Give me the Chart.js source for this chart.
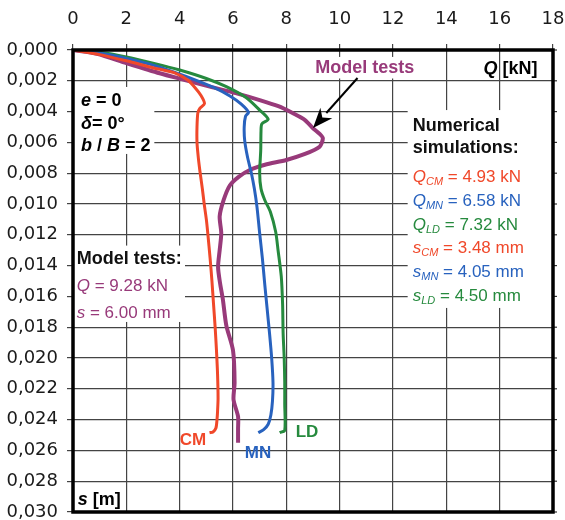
<!DOCTYPE html>
<html>
<head>
<meta charset="utf-8">
<script src="https://cdn.jsdelivr.net/npm/chart.js@4"></script>
<style>
html,body{margin:0;padding:0;background:#fff;}
canvas{display:block;}
</style>
</head>
<body>
<canvas id="c" width="565" height="520"></canvas>
<script>
// ---- Tick values / labels ----
const xTickValues = [0, 2, 4, 6, 8, 10, 12, 14, 16, 18];
const xTickLabels = ['0', '2', '4', '6', '8', '10', '12', '14', '16', '18'];
const yTickValues = [0, 0.002, 0.004, 0.006, 0.008, 0.010, 0.012, 0.014, 0.016, 0.018, 0.020, 0.022, 0.024, 0.026, 0.028, 0.030];
const yTickLabels = ['0,000', '0,002', '0,004', '0,006', '0,008', '0,010', '0,012', '0,014', '0,016', '0,018', '0,020', '0,022', '0,024', '0,026', '0,028', '0,030'];

// ---- Series: Q [kN] and s [m] ----
const cmQ = [0, 1, 2, 3, 3.83, 4.3, 4.57, 4.8, 4.93, 4.75, 4.68, 4.65, 4.65, 4.7, 4.77, 4.85, 4.92, 5.0, 5.06, 5.14, 5.21, 5.27, 5.33, 5.38, 5.42, 5.44, 5.42, 5.40, 5.36, 5.25, 5.12];
const cmS = [0, 0.0003, 0.0007, 0.00115, 0.0015, 0.00195, 0.00243, 0.00295, 0.00348, 0.0038, 0.0041, 0.005, 0.006, 0.007, 0.008, 0.009, 0.010, 0.011, 0.012, 0.0135, 0.015, 0.0165, 0.018, 0.0195, 0.021, 0.0226, 0.0235, 0.024, 0.02455, 0.0248, 0.02485];

const mnQ = [0, 1, 2, 3, 3.77, 4.6, 5.3, 5.9, 6.3, 6.58, 6.47, 6.42, 6.44, 6.55, 6.69, 6.8, 6.9, 7.0, 7.1, 7.19, 7.28, 7.37, 7.45, 7.5, 7.48, 7.42, 7.32, 7.15, 6.95];
const mnS = [0, 0.0002, 0.00055, 0.00098, 0.00142, 0.00195, 0.00245, 0.003, 0.0035, 0.00405, 0.0043, 0.005, 0.0059, 0.007, 0.008, 0.009, 0.0102, 0.0119, 0.0135, 0.0152, 0.0168, 0.0184, 0.020, 0.0216, 0.0228, 0.0237, 0.0243, 0.02465, 0.02485];

const ldQ = [0, 1, 2, 3, 4, 5, 5.75, 6.5, 7.0, 7.32, 7.08, 7.05, 7.04, 7.0, 7.05, 7.19, 7.4, 7.6, 7.69, 7.81, 7.86, 7.88, 7.92, 7.94, 7.94, 7.94, 7.75];
const ldS = [0, 0.00015, 0.00045, 0.00085, 0.0013, 0.00185, 0.00238, 0.0031, 0.0039, 0.0045, 0.0048, 0.0053, 0.0065, 0.008, 0.009, 0.00974, 0.0105, 0.0118, 0.013, 0.0147, 0.0165, 0.0184, 0.020, 0.0216, 0.023, 0.0247, 0.02485];

const mtQ = [0, 0.9, 2, 3.25, 4.2, 5.13, 6.1, 7.0, 7.7, 8.25, 8.7, 9.0, 9.25, 9.37, 9.25, 8.7, 8.0, 7.2, 6.63, 6.2, 5.88, 5.65, 5.5, 5.56, 5.5, 5.44, 5.52, 5.62, 5.75, 6.0, 6.06, 6.02, 6.19, 6.19, 6.19];
const mtS = [0, 0.00025, 0.00085, 0.00151, 0.00195, 0.00238, 0.0028, 0.00325, 0.00365, 0.00411, 0.00455, 0.00508, 0.00545, 0.00573, 0.00628, 0.00675, 0.00714, 0.00745, 0.00779, 0.00825, 0.0088, 0.00974, 0.0108, 0.0119, 0.013, 0.0141, 0.0152, 0.0162, 0.0179, 0.0195, 0.0216, 0.0227, 0.0238, 0.0246, 0.0255];

const RED = 'rgb(240,72,42)';
const BLUE = 'rgb(40,98,190)';
const GREEN = 'rgb(38,138,62)';
const PURPLE = 'rgb(152,58,122)';
const FONT = "'Liberation Sans', Arial, sans-serif";

function pts(q, s) { return q.map((v, i) => ({ x: v, y: s[i] })); }

function drawRich(ctx, x, y, segs, align) {
  let total = 0;
  segs.forEach(sg => { ctx.font = sg[1]; total += ctx.measureText(sg[0]).width; });
  let cx = align === 'right' ? x - total : (align === 'center' ? x - total / 2 : x);
  ctx.textAlign = 'left';
  ctx.textBaseline = 'alphabetic';
  segs.forEach(sg => {
    ctx.font = sg[1];
    ctx.fillStyle = sg[2] || '#000';
    ctx.fillText(sg[0], cx, y + (sg[3] || 0));
    cx += ctx.measureText(sg[0]).width;
  });
}

const annot = {
  id: 'annot',
  beforeDatasetsDraw(chart) {
    const ctx = chart.ctx, xs = chart.scales.x, ys = chart.scales.y;
    const X = q => xs.getPixelForValue(q), Y = mm => ys.getPixelForValue(mm / 1000);
    ctx.save();
    ctx.fillStyle = '#fff';
    const box = (q1, s1, q2, s2) => ctx.fillRect(X(q1), Y(s1), X(q2) - X(q1), Y(s2) - Y(s1));
    box(0, 2.4, 3.05, 6.75);
    box(0, 12.7, 4.2, 17.66);
    box(12.55, 3.9, 18, 16.75);
    box(0, 28.4, 1.9, 30);
    box(9.0, 0.45, 12.9, 1.85);
    ctx.restore();
  },
  afterDatasetsDraw(chart) {
    const ctx = chart.ctx, a = chart.chartArea, xs = chart.scales.x, ys = chart.scales.y;
    const X = q => xs.getPixelForValue(q), Y = mm => ys.getPixelForValue(mm / 1000);
    ctx.save();
    // right-side tick marks
    ctx.strokeStyle = '#333'; ctx.lineWidth = 1.2;
    yTickValues.forEach(v => { const y = ys.getPixelForValue(v); ctx.beginPath(); ctx.moveTo(a.right, y); ctx.lineTo(a.right + 4, y); ctx.stroke(); });
    // frame
    ctx.strokeStyle = '#000'; ctx.lineWidth = 3.5;
    ctx.strokeRect(a.left, a.top, a.right - a.left, a.bottom - a.top);

    const B18 = 'bold 18px ' + FONT, BI18 = 'italic bold 18px ' + FONT;
    const R17 = '17px ' + FONT, I17 = 'italic 17px ' + FONT, I11 = 'italic 11px ' + FONT;
    // parameters block
    drawRich(ctx, X(0.3), Y(3.65), [['e', BI18], [' = 0', B18]]);
    drawRich(ctx, X(0.3), Y(5.1), [['δ', BI18], ['= 0°', B18]]);
    drawRich(ctx, X(0.3), Y(6.55), [['b', BI18], [' / ', B18], ['B', BI18], [' = 2', B18]]);
    // model tests block
    drawRich(ctx, X(0.14), Y(13.9), [['Model tests:', B18, '#111']]);
    drawRich(ctx, X(0.14), Y(15.65), [['Q', I17, PURPLE], [' = 9.28 kN', R17, PURPLE]]);
    drawRich(ctx, X(0.14), Y(17.4), [['s', I17, PURPLE], [' = 6.00 mm', R17, PURPLE]]);
    // numerical simulations
    drawRich(ctx, X(12.74), Y(5.29), [['Numerical', B18, '#111']]);
    drawRich(ctx, X(12.74), Y(6.69), [['simulations:', B18, '#111']]);
    const rows = [
      ['Q', 'CM', ' = 4.93 kN', RED, 8.6],
      ['Q', 'MN', ' = 6.58 kN', BLUE, 10.16],
      ['Q', 'LD', ' = 7.32 kN', GREEN, 11.69],
      ['s', 'CM', ' = 3.48 mm', RED, 13.21],
      ['s', 'MN', ' = 4.05 mm', BLUE, 14.74],
      ['s', 'LD', ' = 4.50 mm', GREEN, 16.33]
    ];
    rows.forEach(r => drawRich(ctx, X(12.74), Y(r[4]), [[r[0], I17, r[3]], [r[1], I11, r[3], 3], [r[2], R17, r[3]]]));
    // axis titles
    drawRich(ctx, X(17.42), Y(1.56), [['Q', BI18], [' [kN]', B18]], 'right');
    drawRich(ctx, X(0.18), Y(29.55), [['s', BI18], [' [m]', B18]]);
    // curve labels
    const B17 = 'bold 17px ' + FONT;
    drawRich(ctx, X(4.0), Y(25.65), [['CM', B17, RED]]);
    drawRich(ctx, X(6.44), Y(26.5), [['MN', B17, BLUE]]);
    drawRich(ctx, X(8.35), Y(25.1), [['LD', B17, GREEN]]);
    // "Model tests" pointer label
    drawRich(ctx, X(10.94), Y(1.51), [['Model tests', B18, PURPLE]], 'center');
    // arrow
    const x1 = X(10.67), y1 = Y(1.82), x2 = X(9.0), y2 = Y(5.06);
    const ang = Math.atan2(y2 - y1, x2 - x1);
    const L = 20, W = 8;
    const bx = x2 - L * Math.cos(ang), by = y2 - L * Math.sin(ang);
    ctx.strokeStyle = '#000'; ctx.lineWidth = 2;
    ctx.beginPath(); ctx.moveTo(x1, y1); ctx.lineTo(bx, by); ctx.stroke();
    const nx = -Math.sin(ang), ny = Math.cos(ang);
    const nX = x2 - 0.7 * L * Math.cos(ang), nY = y2 - 0.7 * L * Math.sin(ang);
    ctx.fillStyle = '#000';
    ctx.beginPath();
    ctx.moveTo(x2, y2);
    ctx.lineTo(x2 - L * Math.cos(ang) + W * nx, y2 - L * Math.sin(ang) + W * ny);
    ctx.lineTo(nX, nY);
    ctx.lineTo(x2 - L * Math.cos(ang) - W * nx, y2 - L * Math.sin(ang) - W * ny);
    ctx.closePath(); ctx.fill();
    ctx.restore();
  }
};

const TICKFONT = { family: "'DejaVu Sans', sans-serif", size: 18 };
new Chart(document.getElementById('c'), {
  type: 'scatter',
  data: {
    datasets: [
      { label: 'CM', data: pts(cmQ, cmS), borderColor: RED, borderWidth: 3 },
      { label: 'MN', data: pts(mnQ, mnS), borderColor: BLUE, borderWidth: 3 },
      { label: 'LD', data: pts(ldQ, ldS), borderColor: GREEN, borderWidth: 3 },
      { label: 'Model tests', data: pts(mtQ, mtS), borderColor: PURPLE, borderWidth: 4 }
    ].map(d => Object.assign(d, { showLine: true, pointRadius: 0, fill: false, tension: 0.25, backgroundColor: d.borderColor }))
  },
  options: {
    responsive: false,
    animation: false,
    devicePixelRatio: 1,
    layout: { padding: { left: 0, top: 0, right: 12, bottom: 8 } },
    plugins: { legend: { display: false }, tooltip: { enabled: false } },
    scales: {
      x: {
        type: 'linear', position: 'top', min: 0, max: 18,
        afterBuildTicks: s => { s.ticks = xTickValues.map(v => ({ value: v })); },
        afterFit: s => { s.height = 50; s.paddingLeft = 0; s.paddingRight = 0; },
        ticks: { font: TICKFONT, color: '#1a1a1a', padding: 14, callback: (v, i) => xTickLabels[i] },
        grid: { color: '#444', lineWidth: 1.2, tickLength: 6 },
        border: { display: false }
      },
      y: {
        type: 'linear', reverse: true, min: 0, max: 0.03,
        afterBuildTicks: s => { s.ticks = yTickValues.map(v => ({ value: v })); },
        afterFit: s => { s.width = 73; s.paddingTop = 0; s.paddingBottom = 0; },
        ticks: { font: TICKFONT, color: '#1a1a1a', padding: 9, callback: (v, i) => yTickLabels[i] },
        grid: { color: '#444', lineWidth: 1.2, tickLength: 6 },
        border: { display: false }
      }
    }
  },
  plugins: [annot]
});
</script>
</body>
</html>
